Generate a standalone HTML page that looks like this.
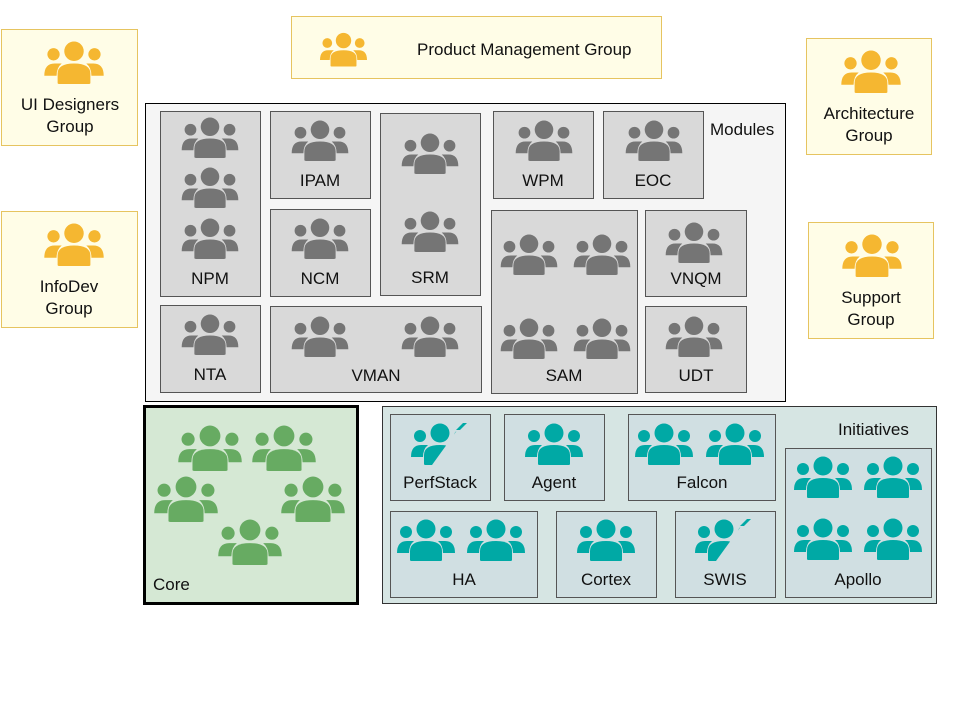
<!DOCTYPE html>
<html><head><meta charset="utf-8"><style>
body{margin:0;background:#fff}
svg{display:block}
text{font-family:"Liberation Sans",sans-serif;font-size:17px;fill:#111}
</style></head><body>
<svg width="960" height="720" viewBox="0 0 960 720">
<defs>
<symbol id="g" viewBox="0 0 58 42">
<circle cx="29" cy="10" r="9.5"/>
<circle cx="9" cy="13" r="6"/>
<circle cx="49" cy="13" r="6"/>
<path d="M13,41 L13,32 Q13,22 29,22 Q45,22 45,32 L45,41 Q45,42 43,42 L15,42 Q13,42 13,41Z"/>
<path d="M0,34 Q0,22 10,22 L17,22 Q12,26 12,34Z"/>
<path d="M58,34 Q58,22 48,22 L41,22 Q46,26 46,34Z"/>
</symbol>
<clipPath id="cp"><polygon points="0,0 44,0 47,6 21,42 0,42"/></clipPath>
<symbol id="s" viewBox="0 0 58 42">
<g clip-path="url(#cp)"><use href="#g" width="58" height="42"/></g>
<polygon points="45,7 52,0 56,0 49,7"/>
</symbol>
</defs>

<g fill="#fffde7" stroke="#e6c460" stroke-width="1">
<rect x="291.5" y="16.5" width="370" height="62"/>
<rect x="1.5" y="29.5" width="136" height="116"/>
<rect x="1.5" y="211.5" width="136" height="116"/>
<rect x="806.5" y="38.5" width="125" height="116"/>
<rect x="808.5" y="222.5" width="125" height="116"/>
</g>
<g fill="#f5b731">
<use href="#g" x="320" y="28" width="47" height="43"/>
<use href="#g" x="38" y="41" width="72" height="43"/>
<use href="#g" x="38" y="223" width="72" height="43"/>
<use href="#g" x="835" y="50" width="72" height="43"/>
<use href="#g" x="836" y="234" width="72" height="43"/>
</g>
<text x="417" y="55">Product Management Group</text>
<text x="70" y="110" text-anchor="middle">UI Designers</text>
<text x="70" y="132" text-anchor="middle">Group</text>
<text x="69" y="292" text-anchor="middle">InfoDev</text>
<text x="69" y="314" text-anchor="middle">Group</text>
<text x="869" y="119" text-anchor="middle">Architecture</text>
<text x="869" y="141" text-anchor="middle">Group</text>
<text x="871" y="303" text-anchor="middle">Support</text>
<text x="871" y="325" text-anchor="middle">Group</text>

<rect x="145.5" y="103.5" width="640" height="298" fill="#f5f5f5" stroke="#000"/>
<g fill="#d9d9d9" stroke="#555">
<rect x="160.5" y="111.5" width="100" height="185"/>
<rect x="270.5" y="111.5" width="100" height="87"/>
<rect x="270.5" y="209.5" width="100" height="87"/>
<rect x="380.5" y="113.5" width="100" height="182"/>
<rect x="493.5" y="111.5" width="100" height="87"/>
<rect x="603.5" y="111.5" width="100" height="87"/>
<rect x="491.5" y="210.5" width="146" height="183"/>
<rect x="645.5" y="210.5" width="101" height="86"/>
<rect x="160.5" y="305.5" width="100" height="87"/>
<rect x="270.5" y="306.5" width="211" height="86"/>
<rect x="645.5" y="306.5" width="101" height="86"/>
</g>
<g fill="#757575">
<use href="#g" x="181" y="117" width="58" height="41"/>
<use href="#g" x="181" y="167" width="58" height="41"/>
<use href="#g" x="181" y="218" width="58" height="41"/>
<use href="#g" x="291" y="120" width="58" height="41"/>
<use href="#g" x="291" y="218" width="58" height="41"/>
<use href="#g" x="401" y="133" width="58" height="41"/>
<use href="#g" x="401" y="211" width="58" height="41"/>
<use href="#g" x="515" y="120" width="58" height="41"/>
<use href="#g" x="625" y="120" width="58" height="41"/>
<use href="#g" x="500" y="234" width="58" height="41"/>
<use href="#g" x="573" y="234" width="58" height="41"/>
<use href="#g" x="500" y="318" width="58" height="41"/>
<use href="#g" x="573" y="318" width="58" height="41"/>
<use href="#g" x="665" y="222" width="58" height="41"/>
<use href="#g" x="181" y="314" width="58" height="41"/>
<use href="#g" x="291" y="316" width="58" height="41"/>
<use href="#g" x="401" y="316" width="58" height="41"/>
<use href="#g" x="665" y="316" width="58" height="41"/>
</g>
<text x="710" y="135">Modules</text>
<g text-anchor="middle">
<text x="210" y="284">NPM</text>
<text x="320" y="186">IPAM</text>
<text x="320" y="284">NCM</text>
<text x="430" y="283">SRM</text>
<text x="543" y="186">WPM</text>
<text x="653" y="186">EOC</text>
<text x="564" y="381">SAM</text>
<text x="696" y="284">VNQM</text>
<text x="210" y="380">NTA</text>
<text x="376" y="381">VMAN</text>
<text x="696" y="381">UDT</text>
</g>

<rect x="144.5" y="406.5" width="213" height="197" fill="#d5e8d4" stroke="#000" stroke-width="3"/>
<g fill="#67ab62">
<use href="#g" x="178" y="425" width="64" height="46"/>
<use href="#g" x="252" y="425" width="64" height="46"/>
<use href="#g" x="154" y="476" width="64" height="46"/>
<use href="#g" x="281" y="476" width="64" height="46"/>
<use href="#g" x="218" y="519" width="64" height="46"/>
</g>
<text x="153" y="590">Core</text>

<rect x="382.5" y="406.5" width="554" height="197" fill="#d6e5e3" stroke="#333"/>
<g fill="#d0dfe2" stroke="#555">
<rect x="390.5" y="414.5" width="100" height="86"/>
<rect x="504.5" y="414.5" width="100" height="86"/>
<rect x="628.5" y="414.5" width="147" height="86"/>
<rect x="785.5" y="448.5" width="146" height="149"/>
<rect x="390.5" y="511.5" width="147" height="86"/>
<rect x="556.5" y="511.5" width="100" height="86"/>
<rect x="675.5" y="511.5" width="100" height="86"/>
</g>
<g fill="#00a9a5">
<use href="#s" x="411" y="423" width="58" height="42"/>
<use href="#g" x="525" y="423" width="58" height="42"/>
<use href="#g" x="635" y="423" width="58" height="42"/>
<use href="#g" x="706" y="423" width="58" height="42"/>
<use href="#g" x="397" y="519" width="58" height="42"/>
<use href="#g" x="467" y="519" width="58" height="42"/>
<use href="#g" x="577" y="519" width="58" height="42"/>
<use href="#s" x="695" y="519" width="58" height="42"/>
<use href="#g" x="794" y="456" width="58" height="42"/>
<use href="#g" x="864" y="456" width="58" height="42"/>
<use href="#g" x="794" y="518" width="58" height="42"/>
<use href="#g" x="864" y="518" width="58" height="42"/>
</g>
<text x="838" y="435">Initiatives</text>
<g text-anchor="middle">
<text x="440" y="488">PerfStack</text>
<text x="554" y="488">Agent</text>
<text x="702" y="488">Falcon</text>
<text x="464" y="585">HA</text>
<text x="606" y="585">Cortex</text>
<text x="725" y="585">SWIS</text>
<text x="858" y="585">Apollo</text>
</g>
</svg>
</body></html>
